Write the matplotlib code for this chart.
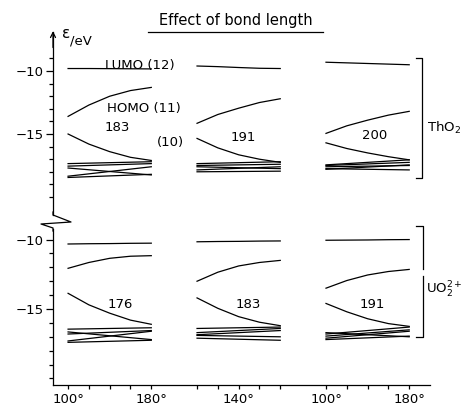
import numpy as np
import matplotlib
matplotlib.use("Agg")
import matplotlib.pyplot as plt
from matplotlib.lines import Line2D

W, H = 465, 413

# bending angle grid of every panel, and how far each panel is shifted along x
angles = [100, 120, 140, 160, 180]
col_offset = [0, 124, 248]

# ThO2 orbital energies (eV), one list per bond-length panel
tho2_lumo = [[-9.80, -9.80, -9.81, -9.82, -9.83],
             [-9.60, -9.65, -9.72, -9.78, -9.80],
             [-9.30, -9.35, -9.40, -9.45, -9.50]]
tho2_homo = [[-13.60, -12.70, -12.00, -11.55, -11.30],
             [-14.15, -13.45, -12.95, -12.50, -12.20],
             [-14.95, -14.35, -13.90, -13.50, -13.20]]
tho2_mo10 = [[-15.00, -15.80, -16.40, -16.85, -17.10],
             [-15.35, -16.10, -16.65, -17.00, -17.25],
             [-15.70, -16.15, -16.50, -16.80, -17.05]]
# lower orbitals: (energy at 100 deg, energy at 180 deg)
tho2_low = [[(-17.35, -17.20), (-17.55, -17.35), (-17.70, -18.25), (-18.35, -17.60), (-18.45, -18.20)],
            [(-17.35, -17.20), (-17.50, -17.40), (-17.60, -17.75), (-17.85, -17.60), (-18.00, -17.95)],
            [(-17.45, -17.05), (-17.50, -17.25), (-17.60, -17.50), (-17.80, -17.45), (-17.75, -17.85)]]
tho2_bond = ["183", "191", "200"]

# UO2 2+ orbital energies (eV)
uo2_lumo = [[-10.32, -10.30, -10.29, -10.27, -10.26],
            [-10.16, -10.14, -10.13, -10.11, -10.10],
            [-10.05, -10.04, -10.03, -10.01, -10.00]]
uo2_homo = [[-12.07, -11.65, -11.35, -11.20, -11.16],
            [-13.00, -12.35, -11.90, -11.65, -11.50],
            [-13.50, -12.95, -12.55, -12.30, -12.15]]
uo2_mo10 = [[-13.87, -14.70, -15.30, -15.80, -16.10],
            [-14.20, -14.95, -15.55, -15.95, -16.20],
            [-14.60, -15.20, -15.70, -16.05, -16.25]]
uo2_low = [[(-16.45, -16.35), (-16.80, -16.55), (-16.65, -17.20), (-17.30, -16.60), (-17.40, -17.25)],
           [(-16.40, -16.30), (-16.70, -16.40), (-16.85, -16.55), (-16.90, -17.00), (-17.10, -17.25)],
           [(-16.80, -16.30), (-16.95, -16.50), (-16.70, -17.00), (-17.10, -16.60), (-17.20, -16.95)]]
uo2_bond = ["176", "183", "191"]

xtick_pos = [100, 180, 124 + 140, 248 + 100, 248 + 180]
xtick_lab = ["100°", "180°", "140°", "100°", "180°"]

LW = 0.9
FS = 9.5


def px(x, y):
    # figure pixel -> figure fraction (for the decorations that join both axes)
    return x / W, 1 - y / H


def draw_panels(ax, lumo, homo, mo10, low):
    for k in range(3):
        x = np.array(angles) + col_offset[k]
        for series in (lumo, homo, mo10):
            ax.plot(x, series[k], color="black", lw=LW)
        for a, b in low[k]:
            ax.plot([x[0], x[-1]], [a, b], color="black", lw=LW)


def style_axis(ax, ylim, ymin_tick, ymax_tick):
    ax.set_xlim(85.5, 448)
    ax.set_ylim(*ylim)
    for s in ("top", "right"):
        ax.spines[s].set_visible(False)
    ax.spines["left"].set_linewidth(LW)
    ax.spines["bottom"].set_linewidth(LW)
    ax.set_yticks([-10, -15])
    ax.set_yticklabels(["−10", "−15"], fontsize=FS)
    ax.set_yticks([v for v in range(ymin_tick, ymax_tick + 1) if v not in (-10, -15)], minor=True)
    ax.tick_params(axis="y", which="major", length=5, width=LW, pad=2)
    ax.tick_params(axis="y", which="minor", length=3, width=LW)
    ax.patch.set_alpha(0)


plt.rcParams["font.family"] = ["DejaVu Sans"]
fig = plt.figure(figsize=(W / 100, H / 100), dpi=100)

left, width = 53 / W, 377 / W
ax1 = fig.add_axes([left, 1 - 215 / H, width, 183 / H])
ax2 = fig.add_axes([left, 1 - 385 / H, width, 156 / H])

draw_panels(ax1, tho2_lumo, tho2_homo, tho2_mo10, tho2_low)
draw_panels(ax2, uo2_lumo, uo2_homo, uo2_mo10, uo2_low)

style_axis(ax1, (-21.43, -6.9), -20, -9)
ax1.spines["bottom"].set_visible(False)
ax1.set_xticks([])
style_axis(ax2, (-20.47, -9.24), -20, -11)

ax2.set_xticks(xtick_pos)
ax2.set_xticklabels(xtick_lab, fontsize=FS)
ax2.set_xticks([a + o for o in col_offset for a in angles], minor=True)
ax2.tick_params(axis="x", which="both", length=3, width=LW, pad=3)

# labels inside the upper panel
ax1.text(135.5, -9.82, "LUMO (12)", fontsize=FS, va="baseline")
ax1.text(137.5, -12.95, "HOMO (11)", fontsize=FS, va="center")
ax1.text(185.5, -15.7, "(10)", fontsize=FS, va="center")
for k, lab in enumerate(tho2_bond):
    ax1.text([147, 268, 395][k], [-14.45, -15.25, -15.1][k], lab, fontsize=FS, ha="center", va="center")
for k, lab in enumerate(uo2_bond):
    ax2.text([150, 273, 392][k], -14.65, lab, fontsize=FS, ha="center", va="center")

# brackets on the right
ax1.plot([434.5, 440.3, 440.3, 434.5], [-8.97, -8.97, -18.49, -18.49], color="black", lw=LW, clip_on=False)
ax1.text(445, -14.5, "ThO$_2$", fontsize=FS, va="center")
ax2.plot([435, 441.3, 441.3], [-9.03, -9.03, -12.09], color="black", lw=LW, clip_on=False)
ax2.plot([441.3, 441.3, 435], [-12.59, -17.01, -17.01], color="black", lw=LW, clip_on=False)
ax2.text(444.5, -13.65, "UO$_2^{2+}$", fontsize=FS, va="center")

# energy axis arrow and label
ax1.annotate("", xy=(0, 1.02), xycoords="axes fraction", xytext=(0, 0.9),
             arrowprops=dict(arrowstyle="->", lw=LW, color="black", mutation_scale=9))
fig.text(*px(62, 33), "ε", fontsize=11, va="center")
fig.text(*px(70, 41), "/eV", fontsize=9.5, va="center")

# axis break between the two panels
zx = [53, 53, 71, 41, 53, 53]
zy = [212, 215, 222, 224, 228, 231]
fig.add_artist(Line2D([x / W for x in zx], [1 - y / H for y in zy], color="black", lw=LW))

# title with underline
fig.text(*px(235.5, 21), "Effect of bond length", fontsize=10.5, ha="center", va="center")
fig.add_artist(Line2D([148 / W, 323 / W], [1 - 32 / H, 1 - 32 / H], color="black", lw=LW))

fig.savefig("out.png", dpi=100)
